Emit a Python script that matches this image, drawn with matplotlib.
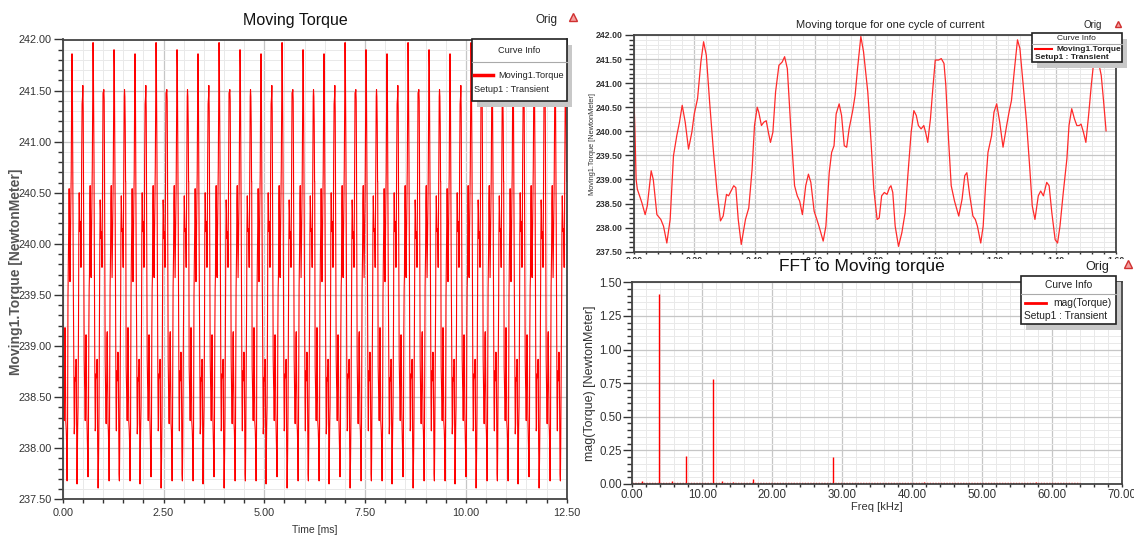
import numpy as np
import matplotlib
matplotlib.use('Agg')
import matplotlib.pyplot as plt
from matplotlib.ticker import MultipleLocator, FormatStrFormatter
from matplotlib.patches import Rectangle
from matplotlib.lines import Line2D

W, H = 1134, 540
FONT = ['Liberation Sans', 'DejaVu Sans']

# torque over one cycle of current, ms / N.m
cycle_t = [0.000, 0.003, 0.007, 0.011, 0.026, 0.037, 0.044, 0.057, 0.064, 0.076,
           0.089, 0.098, 0.109, 0.120, 0.131, 0.142, 0.151, 0.160, 0.170, 0.181,
           0.192, 0.200, 0.211, 0.222, 0.231, 0.240, 0.251, 0.264, 0.276, 0.287,
           0.296, 0.307, 0.314, 0.331, 0.338, 0.346, 0.356, 0.370, 0.381, 0.392,
           0.400, 0.409, 0.414, 0.423, 0.431, 0.439, 0.446, 0.453, 0.461, 0.470,
           0.481, 0.492, 0.500, 0.509, 0.520, 0.533, 0.542, 0.550, 0.559, 0.570,
           0.579, 0.587, 0.598, 0.607, 0.614, 0.628, 0.637, 0.648, 0.656, 0.664,
           0.671, 0.681, 0.689, 0.698, 0.706, 0.714, 0.726, 0.734, 0.742, 0.753,
           0.762, 0.776, 0.787, 0.796,
           0.807, 0.814, 0.822, 0.831, 0.840, 0.848, 0.853, 0.859, 0.867, 0.878,
           0.889, 0.900, 0.909, 0.920, 0.929, 0.937, 0.944, 0.953, 0.962, 0.968,
           0.975, 0.984, 0.992, 1.000, 1.011, 1.020, 1.029, 1.035, 1.044, 1.053,
           1.064, 1.078, 1.089, 1.098, 1.105, 1.114, 1.125, 1.133, 1.140, 1.151,
           1.159, 1.167, 1.175, 1.187, 1.195, 1.204, 1.214, 1.225, 1.237, 1.245,
           1.253, 1.262, 1.273, 1.281, 1.292, 1.303, 1.314, 1.322, 1.331, 1.342,
           1.350, 1.359, 1.370, 1.378, 1.387, 1.398, 1.406, 1.414, 1.425, 1.437,
           1.444, 1.453, 1.462, 1.470, 1.478, 1.484, 1.492, 1.500, 1.509, 1.518,
           1.526, 1.533, 1.542, 1.551, 1.559, 1.567]
cycle_torque = [240.61, 240.05, 239.00, 238.80, 238.52, 238.27, 238.45, 239.18, 239.00, 238.27,
                238.17, 238.03, 237.68, 238.17, 239.49, 239.91, 240.19, 240.54, 240.19, 239.63,
                239.98, 240.36, 240.68, 241.44, 241.86, 241.58, 240.61, 239.56, 238.73, 238.14,
                238.24, 238.69, 238.66, 238.87, 238.83, 238.17, 237.65, 238.17, 238.41, 239.21,
                240.12, 240.50, 240.40, 240.12, 240.19, 240.22, 239.98, 239.77, 239.98, 240.82,
                241.37, 241.44, 241.55, 241.30, 240.12, 238.87, 238.66, 238.55, 238.27, 238.87,
                239.11, 238.94, 238.34, 238.17, 238.03, 237.72, 238.03, 239.14, 239.56, 239.70,
                240.36, 240.57, 240.33, 239.70, 239.67, 240.05, 240.43, 240.75, 241.30, 241.97,
                241.65, 240.82, 239.77, 238.80,
                238.17, 238.20, 238.66, 238.73, 238.69, 238.83, 238.87, 238.73, 238.03, 237.61,
                237.89, 238.31, 239.08, 239.98, 240.43, 240.33, 240.12, 240.05, 240.12, 239.98,
                239.77, 240.26, 240.89, 241.48, 241.48, 241.51, 241.41, 240.96, 239.84, 238.87,
                238.55, 238.24, 238.59, 239.08, 239.14, 238.69, 238.24, 238.17, 238.03, 237.68,
                238.03, 238.87, 239.56, 239.91, 240.40, 240.57, 240.19, 239.67, 240.12, 240.40,
                240.64, 241.23, 241.90, 241.72, 240.96, 240.19, 239.21, 238.45, 238.17, 238.66,
                238.76, 238.66, 238.94, 238.87, 238.31, 237.75, 237.68, 238.03, 238.73, 239.43,
                240.12, 240.47, 240.26, 240.12, 240.12, 240.15, 239.98, 239.77, 240.33, 240.96,
                241.44, 241.51, 241.44, 241.16, 240.61, 240.01]

current_period = 1.5625   # ms, one electrical cycle
n_cycles = 8              # 12.5 ms shown on the left

# FFT lines, kHz / N.m
fft_freq = [1.43, 3.86, 5.71, 7.71, 11.53, 12.77, 14.4, 16.0, 17.3, 22.96,
            25.6, 27.4, 28.7, 38.2, 41.7, 57.6]
fft_mag = [0.02, 1.41, 0.02, 0.21, 0.78, 0.02, 0.012, 0.01, 0.035, 0.008,
           0.01, 0.01, 0.20, 0.006, 0.015, 0.018]
floor_freq = [0.0, 64.0]
floor_mag = [0.004, 0.004]

# repeat the measured cycle over the full transient window
ct = np.array(cycle_t)
cv = np.array(cycle_torque)
keep = ct < current_period
t_all = np.concatenate([ct[keep] + k * current_period for k in range(n_cycles)] + [[n_cycles * current_period]])
v_all = np.concatenate([cv[keep]] * n_cycles + [[cv[0]]])


fig = plt.figure(figsize=(W / 100, H / 100), dpi=100)


def rect(l, t, r, b):
    return [l / W, 1 - b / H, (r - l) / W, (b - t) / H]


def ftext(x, y, s, **kw):
    kw.setdefault('zorder', 5)
    kw.setdefault('family', FONT)
    return fig.text(x / W, 1 - y / H, s, **kw)


def style(ax, xmaj, xmin, ymaj, ymin, size, weight, ylen, xlen, ypad, xpad):
    ax.xaxis.set_major_locator(MultipleLocator(xmaj))
    ax.xaxis.set_minor_locator(MultipleLocator(xmin))
    ax.yaxis.set_major_locator(MultipleLocator(ymaj))
    ax.yaxis.set_minor_locator(MultipleLocator(ymin))
    ax.xaxis.set_major_formatter(FormatStrFormatter('%.2f'))
    ax.yaxis.set_major_formatter(FormatStrFormatter('%.2f'))
    ax.grid(which='major', color='#c6c6c6', lw=0.9)
    ax.grid(which='minor', color='#e9e9e9', lw=0.7)
    ax.set_axisbelow(True)
    for s in ax.spines.values():
        s.set_color('#444444')
        s.set_linewidth(1.3)
    ax.tick_params(axis='y', which='major', length=ylen * 0.72, width=1, color='#333333',
                   pad=ypad, labelsize=size, labelcolor='#333333', labelfontfamily=FONT)
    ax.tick_params(axis='y', which='minor', length=ylen * 0.55 * 0.72, width=1, color='#333333')
    ax.tick_params(axis='x', which='both', length=xlen * 0.72, width=1, color='#333333',
                   pad=xpad, labelsize=size, labelcolor='#333333', labelfontfamily=FONT)
    plt.setp(ax.get_xticklabels() + ax.get_yticklabels(), fontweight=weight)


def curve_info(l, t, r, b, div, lx0, lx1, ly, lw, name, nx, sy, size, weight='normal'):
    fig.patches.append(Rectangle(((l + 5) / W, 1 - (b + 6) / H), (r - l) / W, (b - t) / H,
                                 transform=fig.transFigure, fc='#c8c8c8', ec='none', zorder=3))
    fig.patches.append(Rectangle((l / W, 1 - b / H), (r - l) / W, (b - t) / H,
                                 transform=fig.transFigure, fc='white', ec='#222222', lw=1.2, zorder=3.1))
    fig.add_artist(Line2D([l / W, r / W], [1 - div / H] * 2, color='#aaaaaa', lw=0.8, zorder=3.2))
    fig.add_artist(Line2D([lx0 / W, lx1 / W], [1 - ly / H] * 2, color='red', lw=lw, zorder=3.2))
    ftext((l + r) / 2, (t + div) / 2, 'Curve Info', ha='center', va='center',
          size=size, color='#222222')
    ftext(nx, ly, name, ha='left', va='center', size=size, color='#222222', weight=weight)
    ftext(lx0, sy, 'Setup1 : Transient', ha='left', va='center', size=size,
          color='#222222', weight=weight)


def warn_icon(x, y, ms):
    fig.add_artist(Line2D([x / W], [1 - y / H], marker='^', ms=ms, mfc='#f4a0a0', mec='#d03030',
                          mew=1, ls='none', zorder=5))


# ---- left: full transient
ax1 = fig.add_axes(rect(62.7, 39.5, 566.7, 499.3))
ax1.plot(t_all, v_all, color='#ff0000', lw=0.8)
ax1.set_xlim(0, 12.5)
ax1.set_ylim(237.5, 242.0)
style(ax1, 2.5, 0.5, 0.5, 0.1, 7.8, 'normal', 9.4, 4, 1.2, 3.4)
ftext(295, 20, 'Moving Torque', ha='center', va='center', size=11.5, color='#111111')
ftext(546, 20, 'Orig', ha='center', va='center', size=8.5, color='#222222')
warn_icon(573, 17, 6)
ftext(315, 530, 'Time [ms]', ha='center', va='center', size=7.5, color='#333333')
ftext(16, 272, 'Moving1.Torque [NewtonMeter]', ha='center', va='center', rotation=90,
      size=10, weight='bold', color='#555555')
curve_info(471.7, 39.3, 566.7, 100.7, 62.3, 474, 493, 75, 2.5, 'Moving1.Torque', 498, 90, 6.6)

# ---- upper right: one cycle
ax2 = fig.add_axes(rect(634, 35, 1116, 251.7))
ax2.plot(cycle_t, cycle_torque, color='#ff2a2a', lw=0.9)
ax2.set_xlim(0, 1.6)
ax2.set_ylim(237.5, 242.0)
style(ax2, 0.2, 0.04, 0.5, 0.1, 6.3, 'bold', 9.5, 2.5, 1.0, 1.0)
ftext(890, 25, 'Moving torque for one cycle of current', ha='center', va='center',
      size=8, color='#222222')
ftext(1093, 25.5, 'Orig', ha='center', va='center', size=7, color='#222222')
warn_icon(1118, 24, 5)
ftext(592, 144, 'Moving1.Torque [NewtonMeter]', ha='center', va='center', rotation=90,
      size=5.3, color='#333333')
curve_info(1031.7, 33.3, 1121.7, 61.7, 44.3, 1035, 1052, 49.3, 1.5, 'Moving1.Torque', 1056.7, 57.3,
           6, 'bold')

# the FFT panel hides the lower part of the cycle plot's tick labels
fig.patches.append(Rectangle((580 / W, 0), (W - 580) / W, (H - 258.5) / H,
                             transform=fig.transFigure, fc='white', ec='none', zorder=1))

# ---- lower right: FFT
ax3 = fig.add_axes(rect(632.3, 282.3, 1122.3, 484))
ax3.set_zorder(2)
ax3.vlines(fft_freq, 0, fft_mag, color='#ff0000', lw=1)
ax3.plot(floor_freq, floor_mag, color='#ff0000', lw=1, ls=(0, (1, 1)))
ax3.set_xlim(0, 70)
ax3.set_ylim(0, 1.5)
style(ax3, 10, 2, 0.25, 0.05, 8.3, 'normal', 9, 3, 1.2, 1.5)
ax3.set_xlabel('Freq [kHz]', family=FONT, size=8, color='#333333', labelpad=1)
ax3.set_ylabel('mag(Torque) [NewtonMeter]', family=FONT, size=9, color='#333333', labelpad=2)
ftext(862, 267, 'FFT to Moving torque', ha='center', va='center', size=12.5, color='#111111')
ftext(1097, 267, 'Orig', ha='center', va='center', size=9, color='#222222')
warn_icon(1128, 264, 6)
curve_info(1020.6, 276, 1116, 324, 294, 1024.5, 1045.7, 303.3, 2, 'mag(Torque)', 1052.8, 316, 7.4)

fig.savefig('out.png', dpi=100)
